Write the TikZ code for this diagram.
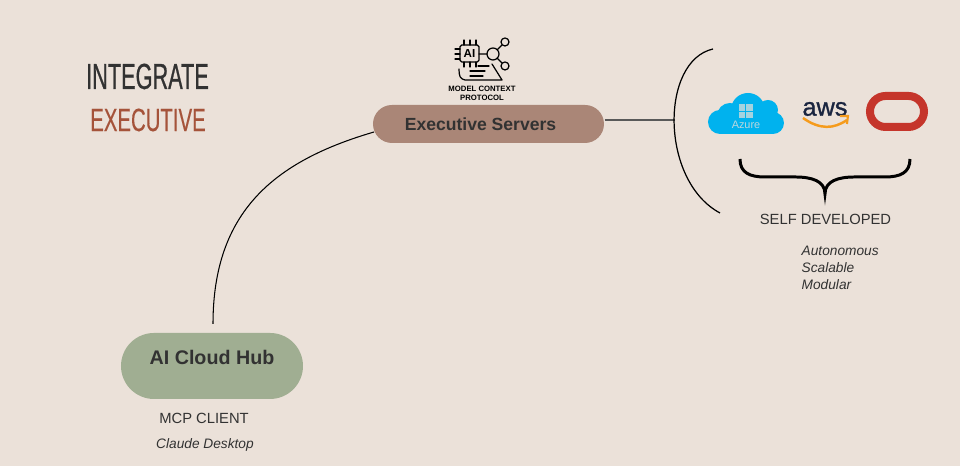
\documentclass[tikz,border=0pt]{standalone}
\usepackage{fontspec}
\usepackage{tikz}
\usetikzlibrary{shapes.misc}
\setmainfont{Liberation Sans}
\newfontfamily\titlefont[FakeStretch=0.6,FakeBold=0.6]{Liberation Sans}
\newfontfamily\subtitlefont[FakeStretch=0.63,FakeBold=0.4]{Liberation Sans}
\newfontfamily\awsfont[FakeBold=1.2]{Liberation Sans}

\definecolor{paper}{RGB}{235,225,217}
\definecolor{ink}{RGB}{50,50,50}
\definecolor{rust}{RGB}{165,83,58}
\definecolor{hubgreen}{RGB}{160,174,146}
\definecolor{srvbrown}{RGB}{170,134,119}
\definecolor{azureblue}{RGB}{0,178,238}
\definecolor{awsnavy}{RGB}{26,37,64}
\definecolor{awsorange}{RGB}{245,155,28}
\definecolor{oraclered}{RGB}{197,53,43}

\tikzset{
	pill/.style={shape=rounded rectangle, inner sep=0pt, text=ink, font=\bfseries},
	caption/.style={text=ink, inner sep=0pt, font=\fontsize{4.2}{5}\selectfont},
	note/.style={text=ink, inner sep=0pt, font=\itshape\fontsize{3.9}{4.84}\selectfont, align=left},
	iconline/.style={draw=black, line width=0.35pt, line cap=round, line join=round}
}

\begin{document}
\begin{tikzpicture}

	\useasboundingbox (0, 0) rectangle (9.6, 4.66);
	\fill[paper] (0, 0) rectangle (9.6, 4.66);

	\node[text=ink, inner sep=0pt, font=\titlefont\fontsize{10.3}{12}\selectfont] (integrate) at (1.475, 3.895) {INTEGRATE};
	\node[text=rust, inner sep=0pt, font=\subtitlefont\fontsize{9.2}{11}\selectfont] (executive) at (1.48, 3.46) {EXECUTIVE};

	\node[pill, fill=srvbrown, minimum width=2.31cm, minimum height=0.38cm, font=\bfseries\fontsize{5}{6}\selectfont] (srv) at (4.885, 3.42) {Executive Servers\kern0.16cm};
	\node[pill, fill=hubgreen, minimum width=1.82cm, minimum height=0.66cm, text height=0.11cm, text depth=0.14cm, font=\bfseries\fontsize{5.6}{7}\selectfont] (hub) at (2.12, 1.0) {AI Cloud Hub};

	\node[caption] (client) at (2.04, 0.48) {MCP CLIENT};
	\node[note] (desktop) at (2.05, 0.21) {Claude Desktop};
	\node[caption] (self) at (8.255, 2.47) {SELF DEVELOPED};
	\node[note, anchor=north west] (traits) at (8.01, 2.205) {Autonomous\\Scalable\\Modular};

	\coordinate (hubtop) at (2.13, 1.42);
	\coordinate (parenleft) at (6.75, 3.46);

	\path[draw=black, line width=0.3pt] (hubtop) .. controls (2.13, 2.55) and (2.75, 3.05) .. (srv.184);
	\path[draw=black!65, line width=0.45pt] (parenleft -| srv.east) edge (parenleft);
	\draw[black, line width=0.35pt] (7.13, 4.17) .. controls (6.6, 4.05) and (6.6, 2.85) .. (7.2, 2.53);

	% brace under the logos
	\draw[black, line width=0.85pt] (7.4, 3.07) .. controls (7.4, 2.93) and (7.5, 2.89) .. (7.65, 2.89) -- (7.95, 2.89) .. controls (8.12, 2.89) and (8.25, 2.85) .. (8.25, 2.72)
		.. controls (8.25, 2.85) and (8.38, 2.89) .. (8.55, 2.89) -- (8.85, 2.89) .. controls (9.0, 2.89) and (9.1, 2.93) .. (9.1, 3.07);

	% azure
	\fill[azureblue] (7.2, 3.44) circle (0.12);
	\fill[azureblue] (7.3, 3.5) circle (0.13);
	\fill[azureblue] (7.48, 3.56) circle (0.17);
	\fill[azureblue] (7.68, 3.56) circle (0.1);
	\fill[azureblue] (7.73, 3.43) circle (0.11);
	\fill[azureblue] (7.2, 3.32) rectangle (7.73, 3.5);
	\fill[paper!70!azureblue] (7.39, 3.55) rectangle (7.455, 3.62);
	\fill[paper!70!azureblue] (7.465, 3.55) rectangle (7.53, 3.62);
	\fill[paper!70!azureblue] (7.39, 3.48) rectangle (7.455, 3.54);
	\fill[paper!70!azureblue] (7.465, 3.48) rectangle (7.53, 3.54);
	\node[text=paper!80!azureblue, inner sep=0pt, font=\fontsize{3.1}{4}\selectfont] (azure) at (7.46, 3.41) {Azure};

	% aws
	\node[text=awsnavy, inner sep=0pt, font=\awsfont\fontsize{7.2}{8}\selectfont] (aws) at (8.25, 3.57) {aws};
	\draw[awsorange, line width=0.7pt] (8.03, 3.48) .. controls (8.2, 3.36) and (8.34, 3.37) .. (8.47, 3.46);
	\draw[awsorange, line width=0.6pt] (8.4, 3.5) -- (8.48, 3.5) -- (8.47, 3.42);

	% oracle
	\node[shape=rounded rectangle, draw=oraclered, line width=0.08cm, inner sep=0pt, minimum width=0.54cm, minimum height=0.31cm] (oracle) at (8.97, 3.545) {};

	% mcp icon
	\draw[iconline, rounded corners=0.5pt] (4.6, 4.04) rectangle (4.79, 4.21);
	\node[inner sep=0pt, text=black, font=\bfseries\fontsize{3.3}{4}\selectfont] (ai) at (4.695, 4.125) {AI};
	\draw[iconline] (4.93, 4.12) circle (0.06) (5.05, 4.24) circle (0.04) (5.05, 4.0) circle (0.04);
	\draw[iconline] (4.97, 4.16) -- (5.02, 4.21) (4.97, 4.08) -- (5.02, 4.03) (4.79, 4.12) -- (4.87, 4.12);
	\foreach \x in {4.64, 4.7, 4.76} {
		\draw[iconline] (\x, 4.21) -- (\x, 4.26);
		\draw[iconline] (\x, 4.04) -- (\x, 3.99);
	}
	\foreach \y in {4.07, 4.12, 4.17} \draw[iconline] (4.6, \y) -- (4.55, \y);
	\draw[iconline] (4.92, 4.02) -- (5.02, 3.86) -- (4.65, 3.86) .. controls (4.6, 3.87) and (4.59, 3.9) .. (4.59, 3.97);
	\draw[iconline] (4.78, 4.0) -- (4.89, 4.0) (4.7, 3.95) -- (4.85, 3.95) (4.7, 3.9) -- (4.83, 3.9);

	\node[inner sep=0pt, align=center, text=black, font=\bfseries\fontsize{2.2}{2.55}\selectfont] (mcp) at (4.82, 3.725) {MODEL CONTEXT\\PROTOCOL};

\end{tikzpicture}
\end{document}
